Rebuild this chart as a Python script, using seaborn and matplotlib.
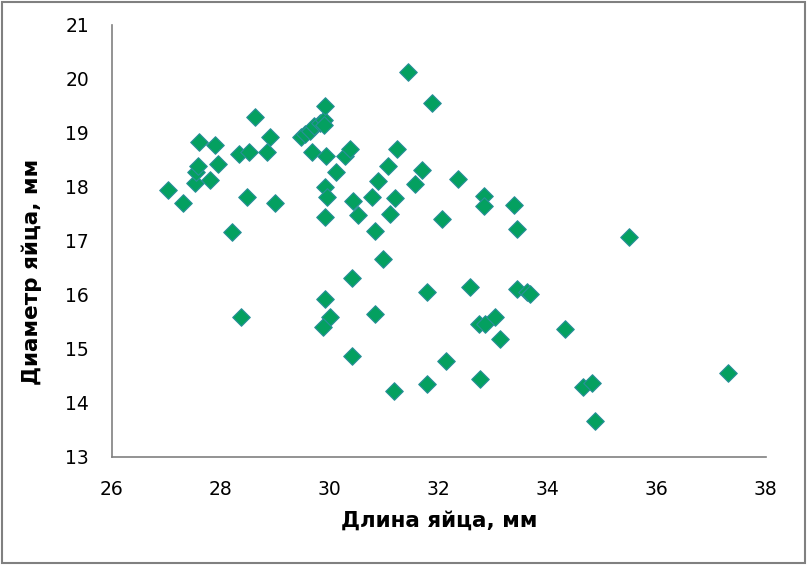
import pandas as pd
import seaborn as sns
import matplotlib.pyplot as plt
from matplotlib.patches import Rectangle

# egg length (mm) and egg diameter (mm)
length_mm = [27.03, 27.31, 27.52, 27.55, 27.58, 27.60, 27.80, 27.89, 27.95, 28.20,
             28.36, 28.34, 28.47, 28.52, 28.63, 28.84, 28.90, 29.00, 29.47, 29.54,
             29.63, 29.71, 29.82, 29.89, 29.90, 29.91, 29.67, 29.92, 29.91, 29.94,
             29.91, 29.91, 30.00, 29.88, 30.12, 30.28, 30.37, 30.40, 30.40, 30.43,
             30.52, 30.77, 30.83, 30.83, 30.89, 30.98, 31.07, 31.10, 31.17, 31.20,
             31.23, 31.44, 31.56, 31.69, 31.78, 31.78, 31.87, 32.05, 32.14, 32.36,
             32.57, 32.73, 32.76, 32.82, 32.83, 32.85, 33.03, 33.12, 33.37, 33.43,
             33.43, 33.61, 33.67, 34.32, 34.65, 34.81, 34.87, 35.49, 37.31]
diameter_mm = [17.94, 17.71, 18.08, 18.28, 18.39, 18.84, 18.13, 18.77, 18.42, 17.16,
               15.58, 18.61, 17.82, 18.64, 19.29, 18.65, 18.92, 17.71, 18.92, 18.98,
               19.04, 19.12, 19.18, 19.24, 19.15, 19.49, 18.64, 18.58, 18.00, 17.81,
               17.45, 15.92, 15.58, 15.40, 18.27, 18.58, 18.70, 16.32, 14.87, 17.74,
               17.48, 17.82, 17.19, 15.64, 18.10, 16.66, 18.39, 17.50, 14.22, 17.79,
               18.70, 20.12, 18.05, 18.31, 16.05, 14.35, 19.55, 17.40, 14.78, 18.15,
               16.14, 15.46, 14.44, 17.84, 17.65, 15.46, 15.58, 15.18, 17.66, 17.22,
               16.11, 16.05, 16.01, 15.37, 14.29, 14.36, 13.67, 17.07, 14.56]

df = pd.DataFrame({'length': length_mm, 'diameter': diameter_mm})

sns.set_style('white')
plt.rcParams['font.family'] = ['DejaVu Sans']
plt.rcParams['text.color'] = 'black'
plt.rcParams['axes.labelcolor'] = 'black'

fig = plt.figure(figsize=(8.08, 5.65), dpi=100)
ax = fig.add_axes([0.1386, 0.1917, 0.8091, 0.7641])

sns.scatterplot(data=df, x='length', y='diameter', marker='D', s=80,
                color='#04a060', edgecolor='#2a8f9a', linewidth=0.8, ax=ax)

ax.set_xlim(26, 38)
ax.set_ylim(13, 21)
ax.set_xticks(range(26, 39, 2))
ax.set_yticks(range(13, 22))

sns.despine(ax=ax)
for side in ['left', 'bottom']:
    ax.spines[side].set_color('#808080')
    ax.spines[side].set_linewidth(1.2)
ax.tick_params(axis='both', direction='out', length=5, width=1.2, color='#808080',
               labelsize=13.5, labelcolor='black')
ax.tick_params(axis='x', pad=11.5)
ax.tick_params(axis='y', pad=11.5)

ax.set_xlabel('Длина яйца, мм', fontsize=15.5, fontweight='bold', labelpad=9)
ax.set_ylabel('Диаметр яйца, мм', fontsize=15.5, fontweight='bold')
ax.yaxis.set_label_coords(-0.107, 0.428)

# grey frame around the whole chart
fig.patches.append(Rectangle((0.003, 0.004), 0.993, 0.992, transform=fig.transFigure,
                             fill=False, edgecolor='#808080', linewidth=1.5))

plt.savefig('out.png', dpi=100)
